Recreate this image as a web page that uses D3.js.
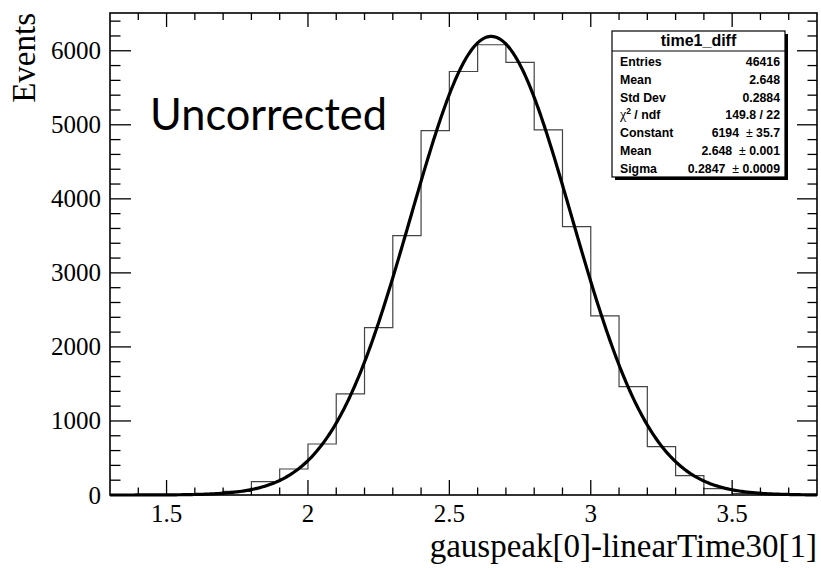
<!DOCTYPE html>
<html><head><meta charset="utf-8">
<script src="https://cdn.jsdelivr.net/npm/d3@7/dist/d3.min.js"></script>
<style>body{margin:0;background:#fff}svg{display:block}</style>
</head><body>
<svg id="c" width="821" height="568"></svg>
<script>
// ---- data ----
const binEdges = [1.3,1.4,1.5,1.6,1.7,1.8,1.9,2.0,2.1,2.2,2.3,2.4,2.5,2.6,2.7,2.8,2.9,3.0,3.1,3.2,3.3,3.4,3.5,3.6,3.7,3.8];
const binCounts = [0,1,4,12,50,180,351,689,1365,2261,3504,4922,5720,6081,5842,4932,3626,2419,1464,653,261,85,20,5,1];
const xTicks = [1.5,2,2.5,3,3.5];
const xTickLabels = ["1.5","2","2.5","3","3.5"];
const yTicks = [0,1000,2000,3000,4000,5000,6000];
const yTickLabels = ["0","1000","2000","3000","4000","5000","6000"];
const fitParams = [6194, 2.648, 0.2847]; // Constant, Mean, Sigma
const statLabels = ["Entries","Mean","Std Dev","CHI","Constant","Mean","Sigma"];
const statValues = ["46416","2.648","0.2884","149.8 / 22","6194|35.7","2.648|0.001","0.2847|0.0009"];

// ---- layout ----
const L=110, R=817, T=13, B=495;
const svg = d3.select("#c");
const x = d3.scaleLinear().domain([1.3,3.8]).range([L,R]);
const y = d3.scaleLinear().domain([0,6510]).range([B,T]);

// histogram step outline
const pts = [[binEdges[0],0]];
binCounts.forEach((c,i)=>{pts.push([binEdges[i],c]);pts.push([binEdges[i+1],c]);});
pts.push([binEdges[binEdges.length-1],0]);
svg.append("path").attr("d", d3.line().x(d=>x(d[0])).y(d=>y(d[1]))(pts))
  .attr("fill","none").attr("stroke","#444").attr("stroke-width",1.2);

// fit curve
const [C0,mu,sg] = fitParams;
const fx = d3.range(1.3,3.8001,0.005);
svg.append("path").attr("d", d3.line().x(d=>x(d)).y(d=>y(C0*Math.exp(-0.5*((d-mu)/sg)**2))).curve(d3.curveLinear)(fx))
  .attr("fill","none").attr("stroke","#000").attr("stroke-width",3.2);

// frame
svg.append("rect").attr("x",L).attr("y",T).attr("width",R-L).attr("height",B-T)
  .attr("fill","none").attr("stroke","#000").attr("stroke-width",1.6);

// axes ticks
const g = svg.append("g").attr("stroke","#000").attr("stroke-width",1.3);
const xMinor = d3.range(14,38).map(v=>v/10);
xMinor.forEach(v=>{
  const major = xTicks.some(t=>Math.abs(t-v)<1e-6);
  const lb = major?15:7.5, lt = major?14:7;
  g.append("line").attr("x1",x(v)).attr("x2",x(v)).attr("y1",B).attr("y2",B-lb);
  g.append("line").attr("x1",x(v)).attr("x2",x(v)).attr("y1",T).attr("y2",T+lt);
});
const yMinor = d3.range(0,6600,200);
yMinor.forEach(v=>{
  if (y(v) < T) return;
  const major = v%1000===0;
  const ll = major?21:10.5;
  g.append("line").attr("x1",L).attr("x2",L+ll).attr("y1",y(v)).attr("y2",y(v));
  g.append("line").attr("x1",R).attr("x2",R-ll+1).attr("y1",y(v)).attr("y2",y(v));
});

// tick labels
const serif = "'Liberation Serif','Times New Roman',serif";
svg.append("g").selectAll("text").data(xTicks).join("text")
  .attr("x",d=>x(d)).attr("y",522).attr("text-anchor","middle")
  .attr("font-family",serif).attr("font-size",25).text((d,i)=>xTickLabels[i]);
svg.append("g").selectAll("text").data(yTicks).join("text")
  .attr("x",101).attr("y",d=>y(d)+8.5).attr("text-anchor","end")
  .attr("font-family",serif).attr("font-size",25).text((d,i)=>yTickLabels[i]);

// axis titles
svg.append("text").attr("x",817).attr("y",557).attr("text-anchor","end")
  .attr("font-family",serif).attr("font-size",33).text("gauspeak[0]-linearTime30[1]");
svg.append("text").attr("transform","translate(35,13) rotate(-90)").attr("text-anchor","end")
  .attr("font-family",serif).attr("font-size",33).text("Events");

// annotation
svg.append("text").attr("x",150).attr("y",130).attr("font-family","Lato,'Open Sans',sans-serif")
  .attr("font-size",45).attr("textLength",237).attr("lengthAdjust","spacingAndGlyphs").text("Uncorrected");

// stats box
const bx=612, by=31, bw=173, bh=146;
svg.append("rect").attr("x",bx+3).attr("y",by+3).attr("width",bw).attr("height",bh).attr("fill","#000");
svg.append("rect").attr("x",bx).attr("y",by).attr("width",bw).attr("height",bh).attr("fill","#fff").attr("stroke","#000").attr("stroke-width",1.2);
svg.append("line").attr("x1",bx).attr("x2",bx+bw).attr("y1",51).attr("y2",51).attr("stroke","#000");
const sans="'Liberation Sans',Arial,Helvetica,sans-serif";
svg.append("text").attr("x",bx+bw/2).attr("y",46).attr("text-anchor","middle")
  .attr("font-family",sans).attr("font-size",16).attr("font-weight","bold").text("time1_diff");
statLabels.forEach((lab,i)=>{
  const yy = 66 + i*17.8;
  const t = svg.append("text").attr("x",620).attr("y",yy).attr("font-family",sans).attr("font-size",12.3).attr("font-weight","bold");
  if (lab==="CHI"){
    t.append("tspan").attr("font-weight","normal").attr("font-family","'Liberation Serif',serif").attr("font-size",14).text("χ");
    t.append("tspan").attr("font-size",8.5).attr("dy",-5).text("2");
    t.append("tspan").attr("dy",5).text(" / ndf");
  } else t.text(lab);
  const v = statValues[i];
  const tv = svg.append("text").attr("x",780).attr("y",yy).attr("text-anchor","end").attr("font-family",sans).attr("font-size",12.3).attr("font-weight","bold").attr("xml:space","preserve");
  if (v.includes("|")){
    const [a,b]=v.split("|");
    tv.append("tspan").text(a+"\u00a0\u00a0");
    tv.append("tspan").attr("font-weight","normal").text("±\u00a0");
    tv.append("tspan").text(b);
  } else tv.text(v);
});
</script>
</body></html>
